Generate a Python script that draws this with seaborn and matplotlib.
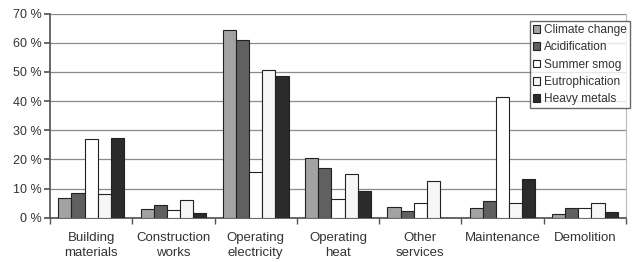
import matplotlib
matplotlib.use("Agg")
import matplotlib.pyplot as plt
import seaborn as sns
import pandas as pd
import numpy as np

categories = ["Building\nmaterials", "Construction\nworks", "Operating\nelectricity",
              "Operating\nheat", "Other\nservices", "Maintenance", "Demolition"]
series = ["Climate change", "Acidification", "Summer smog", "Eutrophication", "Heavy metals"]
climate_change = [6.8, 2.9, 64.5, 20.5, 3.7, 3.4, 1.2]
acidification = [8.6, 4.4, 61.0, 17.2, 2.2, 5.7, 3.4]
summer_smog = [27.0, 2.6, 15.6, 6.3, 5.2, 41.5, 3.4]
eutrophication = [8.0, 6.0, 50.5, 15.0, 12.7, 5.2, 5.0]
heavy_metals = [27.2, 1.7, 48.7, 9.2, 0.0, 13.2, 2.0]
colors = ["#a3a3a3", "#606060", "#ffffff", "#f6f6f6", "#2b2b2b"]

values = [climate_change, acidification, summer_smog, eutrophication, heavy_metals]
rows = []
for s, vals in zip(series, values):
    for c, v in zip(categories, vals):
        rows.append({"Category": c, "Series": s, "Value": v})
df = pd.DataFrame(rows)

sns.set_theme(style="white")
plt.rcParams["font.family"] = ["Liberation Sans", "DejaVu Sans"]

fig = plt.figure(figsize=(6.35, 2.62), dpi=100)
ax = fig.add_axes([50/635, 1-217.7/262, (626-50)/635, (217.7-13.5)/262])

sns.barplot(data=df, x="Category", y="Value", hue="Series", order=categories,
            hue_order=series, palette=colors, width=0.8, edgecolor="#222222",
            linewidth=0.8, saturation=1, ax=ax, legend=True, zorder=3)

ax.set_ylim(0, 70)
ax.set_xlim(-0.5, len(categories) - 0.5)
ax.set_yticks(np.arange(0, 71, 10))
ax.set_yticklabels([f"{v} %" for v in range(0, 71, 10)], color="#333333", fontsize=9)
ax.yaxis.grid(True, color="#8a8a8a", linewidth=0.9, zorder=0)
ax.set_axisbelow(True)
ax.set_xlabel("")
ax.set_ylabel("")
ax.tick_params(axis="x", length=0, labelsize=9.5, labelcolor="#333333", pad=10)
for lbl in ax.get_xticklabels():
    lbl.set_linespacing(1.4)
ax.set_xticks(np.arange(-0.5, len(categories) + 0.5, 1), minor=True)
ax.tick_params(axis="x", which="minor", length=4, color="#555555", direction="out", bottom=True)
ax.tick_params(axis="y", length=4, color="#555555", direction="out", left=True, pad=2)

ax.spines["top"].set_visible(False)
ax.spines["left"].set_color("#555555")
ax.spines["bottom"].set_color("#555555")
ax.spines["right"].set_color("#bbbbbb")
ax.spines["right"].set_linewidth(0.8)

leg = ax.get_legend()
leg.remove()
handles = [plt.Rectangle((0, 0), 1, 1, facecolor=c, edgecolor="#222222", linewidth=0.8) for c in colors]
fig.legend(handles, series, loc="upper left", bbox_to_anchor=(530/635, 1-21/262),
           frameon=True, fancybox=False, edgecolor="#444444", fontsize=8.6,
           handlelength=0.6, handleheight=0.6, handletextpad=0.3, labelspacing=0.45,
           borderpad=0.25, borderaxespad=0, labelcolor="#333333")

fig.savefig("out.png", dpi=100)
